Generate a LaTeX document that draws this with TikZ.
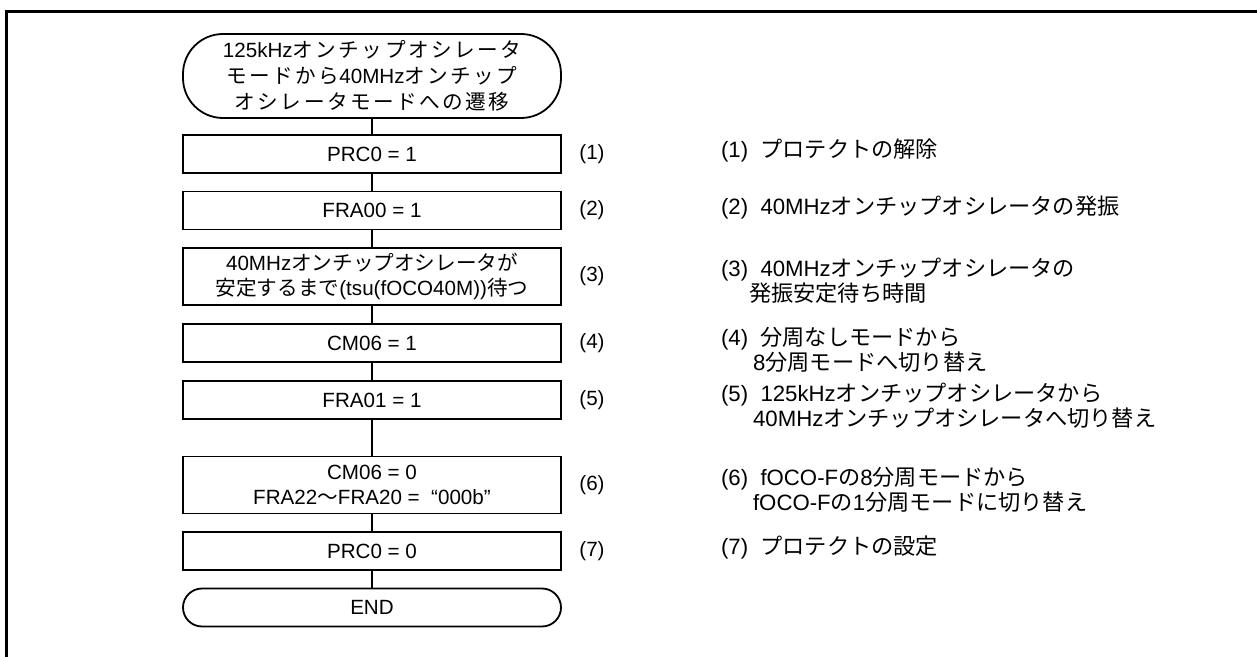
\documentclass[tikz,border=0pt]{standalone}
\usepackage{fontspec}
\setmainfont{Liberation Sans}
\newfontfamily\jp{Noto Sans CJK JP}
\newfontfamily\jpwide{Noto Sans CJK JP}[LetterSpace=12]
\newcommand{\J}[1]{{\jp #1}}
\newcommand{\W}[1]{{\jpwide #1}}

\begin{document}
\begin{tikzpicture}[x=0.5pt, y=-0.5pt,
    every node/.style={font=\fontsize{10.3}{12.5}\selectfont},
    box/.style={draw, line width=0.9pt, minimum width=189pt, minimum height=19pt, align=center, inner sep=0pt},
    tallbox/.style={box, minimum height=28.5pt},
    term/.style={box, rounded corners=9.5pt},
    starter/.style={box, minimum height=42pt, rounded corners=20pt, font=\fontsize{10.3}{13}\selectfont},
    desc/.style={anchor=west, align=left, font=\fontsize{11.1}{10.5}\selectfont}]
    \useasboundingbox (0,0) rectangle (1257,657);
    \draw[line width=1.5pt] (6,657) -- (6,11.5) -- (1257,11.5);

    \node[starter] (start) at (372,76) {125kHz\W{オンチップオシレータ}\\\W{モードから}40MHz\W{オンチップ}\\\W{オシレータモードへの遷移}};
    \node[box] (b1) at (372,154) {PRC0 = 1};
    \node[box] (b2) at (372,210.5) {FRA00 = 1};
    \node[tallbox] (b3) at (372,276.5) {40MHz\J{オンチップオシレータが}\\\J{安定するまで}(tsu(fOCO40M))\J{待つ}};
    \node[box] (b4) at (372,343) {CM06 = 1};
    \node[box] (b5) at (372,400) {FRA01 = 1};
    \node[tallbox] (b6) at (372,485) {CM06 = 0\\FRA22\J{〜}FRA20 = \ “000b”};
    \node[box] (b7) at (372,551) {PRC0 = 0};
    \node[term] (stop) at (372,607.5) {END};

    \draw[line width=0.9pt] (start) -- (b1);
    \draw[line width=0.9pt] (b1) -- (b2);
    \draw[line width=0.9pt] (b2) -- (b3);
    \draw[line width=0.9pt] (b3) -- (b4);
    \draw[line width=0.9pt] (b4) -- (b5);
    \draw[line width=0.9pt] (b5) -- (b6);
    \draw[line width=0.9pt] (b6) -- (b7);
    \draw[line width=0.9pt] (b7) -- (stop);

    \node (n1) at (592,154) {(1)};
    \node (n2) at (592,210.5) {(2)};
    \node (n3) at (592,276.5) {(3)};
    \node (n4) at (592,343) {(4)};
    \node (n5) at (592,400) {(5)};
    \node (n6) at (592,485) {(6)};
    \node (n7) at (592,551) {(7)};

    \node[desc] (d1) at (714,150) {(1)~~\J{プロテクトの解除}};
    \node[desc] (d2) at (714,207) {(2)~~40MHz\J{オンチップオシレータの発振}};
    \node[desc] (d3) at (714,281) {(3)~~40MHz\J{オンチップオシレータの}\\\hspace*{14pt}\J{発振安定待ち時間}};
    \node[desc] (d4) at (714,350) {(4)~~\J{分周なしモードから}\\\hspace*{16pt}8\J{分周モードへ切り替え}};
    \node[desc] (d5) at (714,406) {(5)~~125kHz\J{オンチップオシレータから}\\\hspace*{16pt}40MHz\J{オンチップオシレータへ切り替え}};
    \node[desc] (d6) at (714,490) {(6)~~fOCO-F\J{の}8\J{分周モードから}\\\hspace*{16pt}fOCO-F\J{の}1\J{分周モードに切り替え}};
    \node[desc] (d7) at (714,547) {(7)~~\J{プロテクトの設定}};
\end{tikzpicture}
\end{document}
